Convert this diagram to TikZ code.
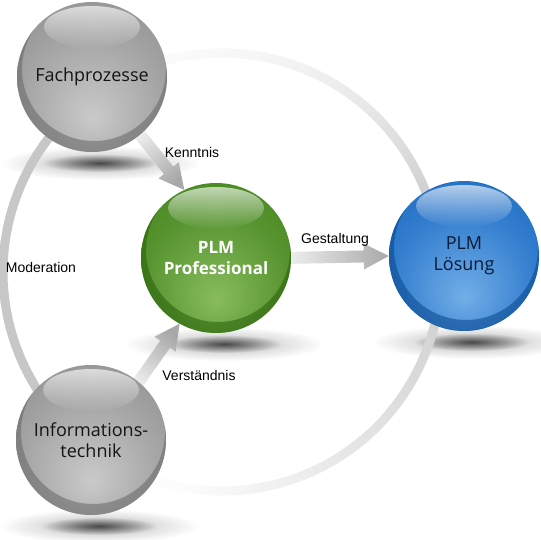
\documentclass[tikz,border=0pt]{standalone}
\usepackage{fontspec}
\setmainfont{Liberation Sans}
\newfontfamily\orbfont{Open Sans}
\usetikzlibrary{calc,fadings}
\pgfdeclarelayer{back}\pgfdeclarelayer{shad}\pgfdeclarelayer{ring}\pgfdeclarelayer{arr}\pgfdeclarelayer{sph}
\pgfsetlayers{back,shad,ring,arr,sph,main}
\definecolor{gD}{HTML}{808080}
\definecolor{gM}{HTML}{A3A3A3}
\definecolor{gL}{HTML}{CACACA}
\definecolor{gC}{HTML}{666666}
\definecolor{grD}{HTML}{387811}
\definecolor{grM}{HTML}{579430}
\definecolor{grL}{HTML}{88BC5E}
\definecolor{grC}{HTML}{275F08}
\definecolor{bD}{HTML}{0C5AB2}
\definecolor{bM}{HTML}{327DCE}
\definecolor{bL}{HTML}{72AEE8}
\definecolor{bC}{HTML}{07458C}
\definecolor{arrL}{HTML}{F2F2F2}
\definecolor{arrD}{HTML}{A8A8A8}
\definecolor{orbtext}{HTML}{141414}
\definecolor{bluetext}{HTML}{0B1B36}
\pgfdeclareradialshading{ballgray}{\pgfpoint{0bp}{-14bp}}{color(0bp)=(gL); color(24bp)=(gM); color(50bp)=(gD); color(66bp)=(gD)}
\pgfdeclareradialshading{ballgreen}{\pgfpoint{0bp}{-14bp}}{color(0bp)=(grL); color(24bp)=(grM); color(50bp)=(grD); color(66bp)=(grD)}
\pgfdeclareradialshading{ballblue}{\pgfpoint{0bp}{-14bp}}{color(0bp)=(bL); color(24bp)=(bM); color(50bp)=(bD); color(66bp)=(bD)}
\tikzfading[name=hlfade, top color=transparent!35, bottom color=transparent!100]
\tikzfading[name=shadwide, inner color=transparent!72, outer color=transparent!100]
\tikzfading[name=shadcore, inner color=transparent!40, outer color=transparent!100]
\newcommand\drawsphere[3]{%
  \begin{pgfonlayer}{shad}
    \fill[black, path fading=shadwide] ($(#1)+(8,86)$) ellipse[x radius=100, y radius=17];
    \fill[black, path fading=shadcore] ($(#1)+(8,86)$) ellipse[x radius=58, y radius=9];
  \end{pgfonlayer}
  \begin{pgfonlayer}{sph}
    \shade[shading=#2] (#1) circle[radius=75];
    \begin{scope}
      \clip (#1) circle[radius=75];
      \fill[#3, opacity=.55, even odd rule] (#1) circle[radius=77] ($(#1)+(2,-8)$) circle[radius=72];
    \end{scope}
    \fill[white, path fading=hlfade] ($(#1)+(0,-50)$) ellipse[x radius=48, y radius=21];
  \end{pgfonlayer}}
\newcommand\fatarrow[3]{%
  \coordinate (hd) at ($(#2)!25pt!(#1)$);
  \begin{pgfonlayer}{arr}
  \shade[top color=arrL, bottom color=arrD, shading angle=#3]
    ($(#1)!6pt!90:(#2)$) -- ($(hd)!6pt!90:(#2)$) -- ($(hd)!13pt!90:(#2)$) -- (#2)
    -- ($(hd)!13pt!-90:(#2)$) -- ($(hd)!6pt!-90:(#2)$) -- ($(#1)!6pt!-90:(#2)$) -- cycle;
  \end{pgfonlayer}}
\newcommand\ringseg[2]{%
  \pgfmathsetmacro\ringpct{#2}%
  \colorlet{ringcol}{black!\ringpct!white}%
  \draw[line width=9pt, draw=ringcol] ($(ringc)+(#1:219)$) arc[start angle=#1, end angle=#1+1.2, radius=219];}
\begin{document}
\begin{tikzpicture}[x=1pt,y=-1pt,
  orb/.style={circle, minimum size=150pt, inner sep=0pt, align=center, text=orbtext,
    font=\orbfont\fontsize{18}{21}\selectfont},
  lbl/.style={font=\fontsize{14}{16}\selectfont, text=black, inner sep=0pt}]
\useasboundingbox (0,0) rectangle (540,540);
\begin{pgfonlayer}{back}
  \fill[white] (0,0) rectangle (540,540);
\end{pgfonlayer}

% spheres (nodes)
\node[orb] (fach) at (92,77) {Fachprozesse};
\node[orb, text=white, font=\orbfont\bfseries\fontsize{17}{21}\selectfont] (plmpro) at (216,258) {PLM\\Professional};
\node[orb, text=bluetext] (plmloes) at (464,256) {PLM\\Lösung};
\node[orb] (info) at (91,440) {Informations-\\technik};

\drawsphere{fach}{ballgray}{gC}
\drawsphere{plmpro}{ballgreen}{grC}
\drawsphere{plmloes}{ballblue}{bC}
\drawsphere{info}{ballgray}{gC}

% ring (Moderation circle), shaded by segments
\coordinate (ringc) at (222,272);
\begin{pgfonlayer}{ring}
\foreach \a in {140,...,218}{\ringseg{\a}{22}}
\foreach \a in {219,...,336}{\ringseg{\a}{1.5+16.5*((\a-219)/118)^3}}
\foreach \a in {337,...,374}{\ringseg{\a}{18}}
\foreach \a in {15,...,139}{\ringseg{\a}{max(1,17-16*(\a-15)/85)}}
\end{pgfonlayer}

% arrows
\coordinate (kt) at ($(fach)!0.85!(fach.-50)$);
\coordinate (kh) at (plmpro.115);
\fatarrow{kt}{kh}{39}
\coordinate (vt) at ($(info)!0.85!(info.50)$);
\coordinate (vh) at (plmpro.-119);
\fatarrow{vt}{vh}{144}
\coordinate (gt) at ($(plmpro)!0.9!(plmpro.east)$);
\coordinate (gh) at (plmloes.west);
\fatarrow{gt}{gh}{90}

% labels
\node[lbl] (kenntnis) at (192,152) {Kenntnis};
\node[lbl] (moderation) at (41,267) {Moderation};
\node[lbl] (gestaltung) at (335,240) {Gestaltung};
\node[lbl] (verstaendnis) at (199,375) {Verständnis};
\end{tikzpicture}
\end{document}
